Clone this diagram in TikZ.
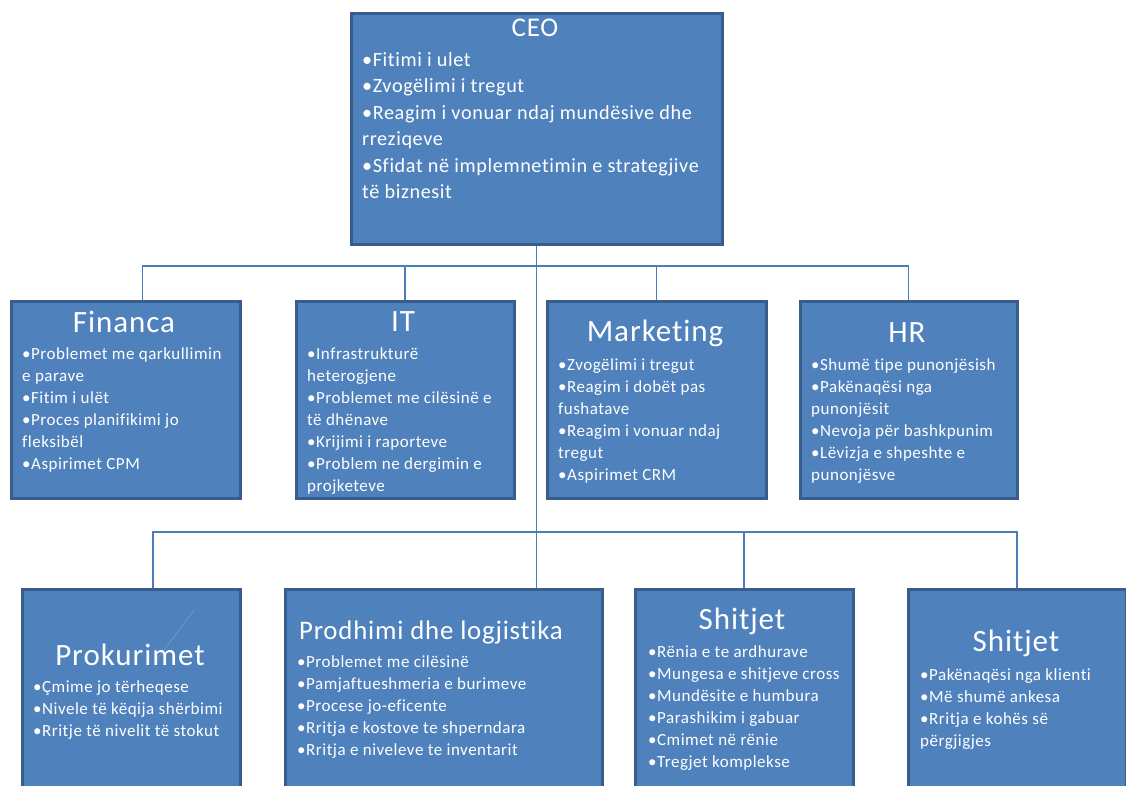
\documentclass[tikz,border=0pt]{standalone}
\usepackage{fontspec}
\setmainfont{Carlito}[LetterSpace=3, Ligatures=CommonOff]
\usetikzlibrary{backgrounds}
\definecolor{boxfill}{HTML}{4F81BD}
\definecolor{boxline}{HTML}{385D8A}
\definecolor{wire}{HTML}{4A7EBB}
\tikzset{
  unitbox/.style={draw=boxline, line width=3pt, fill=boxfill, rectangle, inner sep=0pt, anchor=north west},
  boxtitle/.style={text=white, inner sep=0pt, font=\fontsize{31}{31}\selectfont},
  % items are anchored at the baseline of their last line
  items/.style={text=white, inner sep=0pt, align=left, anchor=base west, font=\fontsize{17}{22}\selectfont},
  conn/.style={draw=wire, line width=1.3pt}
}
\begin{document}
\begin{tikzpicture}[x=1pt,y=1pt]
\useasboundingbox (0,0) rectangle (1126,-785);
\clip (0,0) rectangle (1126,-785);

% junctions of the two horizontal buses
\coordinate (busA) at (535,-266);
\coordinate (busB) at (535,-532);

% boxes
\node[unitbox, minimum width=371pt, minimum height=231pt] (ceo) at (349.5,-11.5) {};
\node[unitbox, minimum width=229pt, minimum height=197pt] (fin) at (9.5,-299.5) {};
\node[unitbox, minimum width=218pt, minimum height=197pt] (it) at (294.5,-299.5) {};
\node[unitbox, minimum width=219pt, minimum height=197pt] (mkt) at (545.5,-299.5) {};
\node[unitbox, minimum width=217pt, minimum height=197pt] (hr) at (798.5,-299.5) {};
\node[unitbox, minimum width=218pt, minimum height=250pt] (prok) at (20.5,-587.5) {};
\node[unitbox, minimum width=317pt, minimum height=250pt] (prod) at (283.5,-587.5) {};
\node[unitbox, minimum width=218pt, minimum height=250pt] (shA) at (633.5,-587.5) {};
\node[unitbox, minimum width=218pt, minimum height=250pt] (shB) at (906.5,-587.5) {};

% tree lines, behind the boxes
\begin{scope}[on background layer]
\draw[conn] (ceo.south) -- (ceo.south |- prod.north);
\draw[conn] ([xshift=17pt]fin.north) |- (busA);
\draw[conn] (it.north) |- (busA);
\draw[conn] (mkt.north) |- (busA);
\draw[conn] (hr.north) |- (busA);
\draw[conn] ([xshift=22pt]prok.north) |- (busB);
\draw[conn] (shA.north) |- (busB);
\draw[conn] (shB.north) |- (busB);
\end{scope}

% CEO
\node[boxtitle, font=\fontsize{27}{27}\selectfont] (ceoT) at (535,-28) {CEO};
\node[items, font=\fontsize{20.2}{26.5}\selectfont] (ceoL) at (362,-198.5) {%
•Fitimi i ulet\\
•Zvogëlimi i tregut\\
•Reagim i vonuar ndaj mundësive dhe\\
rreziqeve\\
•Sfidat në implemnetimin e strategjive\\
të biznesit};

% Financa
\node[boxtitle] (finT) at (124,-322) {Financa};
\node[items] (finL) at (22,-469) {%
•Problemet me qarkullimin\\
e parave\\
•Fitim i ulët\\
•Proces planifikimi jo\\
fleksibël\\
•Aspirimet CPM};

% IT
\node[boxtitle] (itT) at (403,-322) {IT};
\node[items] (itL) at (307,-491) {%
•Infrastrukturë\\
heterogjene\\
•Problemet me cilësinë e\\
të dhënave\\
•Krijimi i raporteve\\
•Problem ne dergimin e\\
projketeve};

% Marketing
\node[boxtitle] (mktT) at (655,-333) {Marketing};
\node[items] (mktL) at (558,-480) {%
•Zvogëlimi i tregut\\
•Reagim i dobët pas\\
fushatave\\
•Reagim i vonuar ndaj\\
tregut\\
•Aspirimet CRM};

% HR
\node[boxtitle] (hrT) at (907,-333) {HR};
\node[items] (hrL) at (811,-480) {%
•Shumë tipe punonjësish\\
•Pakënaqësi nga\\
punonjësit\\
•Nevoja për bashkpunim\\
•Lëvizja e shpeshte e\\
punonjësve};

% Prokurimet
\draw[white, opacity=0.18, line width=0.8pt] (195,-609) -- (154,-663);
\node[boxtitle] (prokT) at (130,-655) {Prokurimet};
\node[items] (prokL) at (33,-736) {%
•Çmime jo tërheqese\\
•Nivele të këqija shërbimi\\
•Rritje të nivelit të stokut};

% Prodhimi dhe logjistika
\node[boxtitle, font=\fontsize{26.8}{26.8}\selectfont] (prodT) at (431,-632) {Prodhimi dhe logjistika};
\node[items] (prodL) at (297,-755) {%
•Problemet me cilësinë\\
•Pamjaftueshmeria e burimeve\\
•Procese jo-eficente\\
•Rritja e kostove te shperndara\\
•Rritja e niveleve te inventarit};

% Shitjet
\node[boxtitle] (shAT) at (742,-621) {Shitjet};
\node[items] (shAL) at (648,-767) {%
•Rënia e te ardhurave\\
•Mungesa e shitjeve cross\\
•Mundësite e humbura\\
•Parashikim i gabuar\\
•Cmimet në rënie\\
•Tregjet komplekse};

% Shitjet (klientët)
\node[boxtitle] (shBT) at (1016,-643) {Shitjet};
\node[items] (shBL) at (920,-746) {%
•Pakënaqësi nga klienti\\
•Më shumë ankesa\\
•Rritja e kohës së\\
përgjigjes};
\end{tikzpicture}
\end{document}
